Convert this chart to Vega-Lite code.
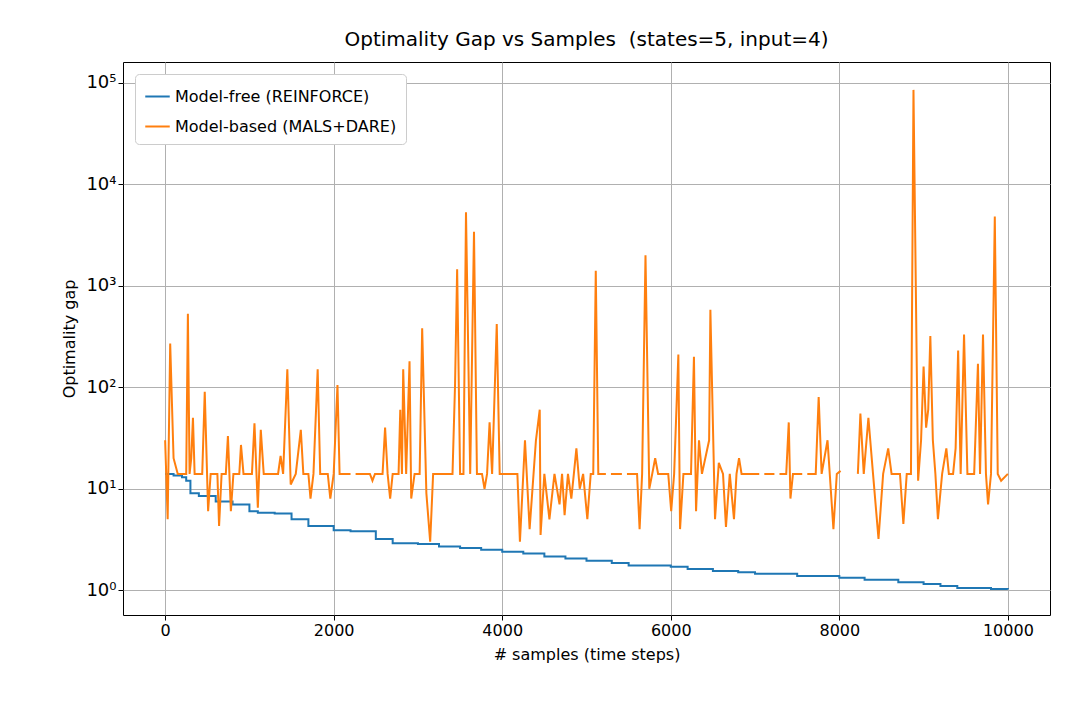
{
  "$schema": "https://vega.github.io/schema/vega-lite/v6.json",
  "width": 927,
  "height": 553,
  "autosize": {"type": "none"},
  "padding": {"left": 123, "top": 62, "right": 30, "bottom": 105},
  "title": {"text": "Optimality Gap vs Samples \u00a0(states=5, input=4)", "font": "DejaVu Sans", "fontSize": 20, "fontWeight": "normal", "offset": 12},
  "config": {
    "font": "DejaVu Sans",
    "view": {"stroke": "black", "strokeWidth": 1},
    "axis": {"grid": true, "gridColor": "#b0b0b0", "gridWidth": 1, "domain": false, "tickColor": "black", "labelFontSize": 16, "titleFontSize": 16, "titleFontWeight": "normal", "labelColor": "black", "titleColor": "black", "tickSize": 5}
  },
  "data": {"values": [
    {"x":0,"y":14,"s":"Model-free (REINFORCE)"},{"x":100,"y":13.5,"s":"Model-free (REINFORCE)"},{"x":200,"y":13,"s":"Model-free (REINFORCE)"},{"x":250,"y":12,"s":"Model-free (REINFORCE)"},{"x":300,"y":9,"s":"Model-free (REINFORCE)"},{"x":400,"y":8.5,"s":"Model-free (REINFORCE)"},{"x":600,"y":7.5,"s":"Model-free (REINFORCE)"},{"x":800,"y":7,"s":"Model-free (REINFORCE)"},{"x":1000,"y":6,"s":"Model-free (REINFORCE)"},{"x":1100,"y":5.8,"s":"Model-free (REINFORCE)"},{"x":1300,"y":5.7,"s":"Model-free (REINFORCE)"},{"x":1500,"y":5,"s":"Model-free (REINFORCE)"},{"x":1700,"y":4.3,"s":"Model-free (REINFORCE)"},{"x":2000,"y":3.9,"s":"Model-free (REINFORCE)"},{"x":2200,"y":3.8,"s":"Model-free (REINFORCE)"},{"x":2500,"y":3.2,"s":"Model-free (REINFORCE)"},{"x":2700,"y":2.9,"s":"Model-free (REINFORCE)"},{"x":3000,"y":2.85,"s":"Model-free (REINFORCE)"},{"x":3250,"y":2.7,"s":"Model-free (REINFORCE)"},{"x":3500,"y":2.6,"s":"Model-free (REINFORCE)"},{"x":3750,"y":2.5,"s":"Model-free (REINFORCE)"},{"x":4000,"y":2.4,"s":"Model-free (REINFORCE)"},{"x":4250,"y":2.3,"s":"Model-free (REINFORCE)"},{"x":4500,"y":2.15,"s":"Model-free (REINFORCE)"},{"x":4750,"y":2.05,"s":"Model-free (REINFORCE)"},{"x":5000,"y":1.95,"s":"Model-free (REINFORCE)"},{"x":5300,"y":1.85,"s":"Model-free (REINFORCE)"},{"x":5500,"y":1.75,"s":"Model-free (REINFORCE)"},{"x":6000,"y":1.7,"s":"Model-free (REINFORCE)"},{"x":6200,"y":1.62,"s":"Model-free (REINFORCE)"},{"x":6500,"y":1.55,"s":"Model-free (REINFORCE)"},{"x":6800,"y":1.5,"s":"Model-free (REINFORCE)"},{"x":7000,"y":1.45,"s":"Model-free (REINFORCE)"},{"x":7500,"y":1.38,"s":"Model-free (REINFORCE)"},{"x":8000,"y":1.33,"s":"Model-free (REINFORCE)"},{"x":8300,"y":1.27,"s":"Model-free (REINFORCE)"},{"x":8700,"y":1.2,"s":"Model-free (REINFORCE)"},{"x":9000,"y":1.15,"s":"Model-free (REINFORCE)"},{"x":9200,"y":1.1,"s":"Model-free (REINFORCE)"},{"x":9400,"y":1.05,"s":"Model-free (REINFORCE)"},{"x":9800,"y":1.03,"s":"Model-free (REINFORCE)"},{"x":10000,"y":1.02,"s":"Model-free (REINFORCE)"},

    {"x":0,"y":30,"s":"Model-based (MALS+DARE)"},{"x":30,"y":5,"s":"Model-based (MALS+DARE)"},{"x":60,"y":270,"s":"Model-based (MALS+DARE)"},{"x":100,"y":20,"s":"Model-based (MALS+DARE)"},{"x":150,"y":14,"s":"Model-based (MALS+DARE)"},{"x":250,"y":14,"s":"Model-based (MALS+DARE)"},{"x":270,"y":530,"s":"Model-based (MALS+DARE)"},{"x":290,"y":14,"s":"Model-based (MALS+DARE)"},{"x":310,"y":20,"s":"Model-based (MALS+DARE)"},{"x":330,"y":50,"s":"Model-based (MALS+DARE)"},{"x":350,"y":14,"s":"Model-based (MALS+DARE)"},
    {"x":440,"y":14,"s":"Model-based (MALS+DARE)"},{"x":470,"y":90,"s":"Model-based (MALS+DARE)"},{"x":510,"y":6,"s":"Model-based (MALS+DARE)"},{"x":540,"y":14,"s":"Model-based (MALS+DARE)"},{"x":620,"y":14,"s":"Model-based (MALS+DARE)"},{"x":640,"y":4.3,"s":"Model-based (MALS+DARE)"},{"x":670,"y":14,"s":"Model-based (MALS+DARE)"},{"x":720,"y":14,"s":"Model-based (MALS+DARE)"},{"x":745,"y":33,"s":"Model-based (MALS+DARE)"},{"x":780,"y":6,"s":"Model-based (MALS+DARE)"},{"x":810,"y":14,"s":"Model-based (MALS+DARE)"},{"x":880,"y":14,"s":"Model-based (MALS+DARE)"},{"x":900,"y":27,"s":"Model-based (MALS+DARE)"},{"x":930,"y":14,"s":"Model-based (MALS+DARE)"},
    {"x":1030,"y":14,"s":"Model-based (MALS+DARE)"},{"x":1060,"y":44,"s":"Model-based (MALS+DARE)"},{"x":1100,"y":6.5,"s":"Model-based (MALS+DARE)"},{"x":1135,"y":38,"s":"Model-based (MALS+DARE)"},{"x":1170,"y":14,"s":"Model-based (MALS+DARE)"},{"x":1340,"y":14,"s":"Model-based (MALS+DARE)"},{"x":1370,"y":21,"s":"Model-based (MALS+DARE)"},{"x":1400,"y":14,"s":"Model-based (MALS+DARE)"},{"x":1450,"y":150,"s":"Model-based (MALS+DARE)"},{"x":1490,"y":11,"s":"Model-based (MALS+DARE)"},{"x":1550,"y":14,"s":"Model-based (MALS+DARE)"},{"x":1610,"y":38,"s":"Model-based (MALS+DARE)"},{"x":1640,"y":14,"s":"Model-based (MALS+DARE)"},{"x":1700,"y":14,"s":"Model-based (MALS+DARE)"},{"x":1725,"y":8,"s":"Model-based (MALS+DARE)"},{"x":1760,"y":14,"s":"Model-based (MALS+DARE)"},{"x":1810,"y":150,"s":"Model-based (MALS+DARE)"},{"x":1840,"y":14,"s":"Model-based (MALS+DARE)"},{"x":1930,"y":14,"s":"Model-based (MALS+DARE)"},{"x":1960,"y":8,"s":"Model-based (MALS+DARE)"},{"x":2000,"y":14,"s":"Model-based (MALS+DARE)"},{"x":2045,"y":105,"s":"Model-based (MALS+DARE)"},{"x":2070,"y":14,"s":"Model-based (MALS+DARE)"},{"x":2200,"y":14,"s":"Model-based (MALS+DARE)"},{"x":2230,"y":null,"s":"Model-based (MALS+DARE)"},{"x":2260,"y":14,"s":"Model-based (MALS+DARE)"},
    {"x":2430,"y":14,"s":"Model-based (MALS+DARE)"},{"x":2460,"y":12,"s":"Model-based (MALS+DARE)"},{"x":2490,"y":14,"s":"Model-based (MALS+DARE)"},{"x":2580,"y":14,"s":"Model-based (MALS+DARE)"},{"x":2610,"y":40,"s":"Model-based (MALS+DARE)"},{"x":2640,"y":14,"s":"Model-based (MALS+DARE)"},{"x":2670,"y":8,"s":"Model-based (MALS+DARE)"},{"x":2700,"y":14,"s":"Model-based (MALS+DARE)"},{"x":2770,"y":14,"s":"Model-based (MALS+DARE)"},{"x":2790,"y":60,"s":"Model-based (MALS+DARE)"},{"x":2810,"y":14,"s":"Model-based (MALS+DARE)"},{"x":2825,"y":150,"s":"Model-based (MALS+DARE)"},{"x":2860,"y":14,"s":"Model-based (MALS+DARE)"},{"x":2900,"y":180,"s":"Model-based (MALS+DARE)"},{"x":2920,"y":8,"s":"Model-based (MALS+DARE)"},{"x":2960,"y":14,"s":"Model-based (MALS+DARE)"},{"x":3020,"y":14,"s":"Model-based (MALS+DARE)"},{"x":3050,"y":380,"s":"Model-based (MALS+DARE)"},{"x":3100,"y":9,"s":"Model-based (MALS+DARE)"},{"x":3145,"y":3,"s":"Model-based (MALS+DARE)"},{"x":3180,"y":14,"s":"Model-based (MALS+DARE)"},
    {"x":3410,"y":14,"s":"Model-based (MALS+DARE)"},{"x":3440,"y":105,"s":"Model-based (MALS+DARE)"},{"x":3465,"y":1450,"s":"Model-based (MALS+DARE)"},{"x":3500,"y":14,"s":"Model-based (MALS+DARE)"},{"x":3540,"y":14,"s":"Model-based (MALS+DARE)"},{"x":3570,"y":5300,"s":"Model-based (MALS+DARE)"},{"x":3620,"y":14,"s":"Model-based (MALS+DARE)"},{"x":3665,"y":3400,"s":"Model-based (MALS+DARE)"},{"x":3700,"y":14,"s":"Model-based (MALS+DARE)"},{"x":3760,"y":14,"s":"Model-based (MALS+DARE)"},{"x":3790,"y":10,"s":"Model-based (MALS+DARE)"},{"x":3820,"y":14,"s":"Model-based (MALS+DARE)"},{"x":3850,"y":45,"s":"Model-based (MALS+DARE)"},{"x":3880,"y":14,"s":"Model-based (MALS+DARE)"},{"x":3935,"y":420,"s":"Model-based (MALS+DARE)"},{"x":3970,"y":14,"s":"Model-based (MALS+DARE)"},
    {"x":4180,"y":14,"s":"Model-based (MALS+DARE)"},{"x":4210,"y":3,"s":"Model-based (MALS+DARE)"},{"x":4270,"y":30,"s":"Model-based (MALS+DARE)"},{"x":4325,"y":4,"s":"Model-based (MALS+DARE)"},{"x":4400,"y":30,"s":"Model-based (MALS+DARE)"},{"x":4445,"y":60,"s":"Model-based (MALS+DARE)"},{"x":4455,"y":3.5,"s":"Model-based (MALS+DARE)"},{"x":4500,"y":14,"s":"Model-based (MALS+DARE)"},{"x":4560,"y":5,"s":"Model-based (MALS+DARE)"},{"x":4620,"y":14,"s":"Model-based (MALS+DARE)"},{"x":4680,"y":7,"s":"Model-based (MALS+DARE)"},{"x":4710,"y":14,"s":"Model-based (MALS+DARE)"},{"x":4740,"y":5.5,"s":"Model-based (MALS+DARE)"},{"x":4780,"y":14,"s":"Model-based (MALS+DARE)"},{"x":4820,"y":8,"s":"Model-based (MALS+DARE)"},{"x":4850,"y":14,"s":"Model-based (MALS+DARE)"},{"x":4880,"y":25,"s":"Model-based (MALS+DARE)"},{"x":4920,"y":10,"s":"Model-based (MALS+DARE)"},{"x":4960,"y":14,"s":"Model-based (MALS+DARE)"},{"x":5010,"y":5,"s":"Model-based (MALS+DARE)"},{"x":5050,"y":14,"s":"Model-based (MALS+DARE)"},{"x":5080,"y":14,"s":"Model-based (MALS+DARE)"},{"x":5110,"y":1400,"s":"Model-based (MALS+DARE)"},{"x":5140,"y":14,"s":"Model-based (MALS+DARE)"},{"x":5230,"y":14,"s":"Model-based (MALS+DARE)"},{"x":5260,"y":null,"s":"Model-based (MALS+DARE)"},{"x":5290,"y":14,"s":"Model-based (MALS+DARE)"},{"x":5420,"y":14,"s":"Model-based (MALS+DARE)"},{"x":5450,"y":null,"s":"Model-based (MALS+DARE)"},{"x":5480,"y":14,"s":"Model-based (MALS+DARE)"},
    {"x":5600,"y":14,"s":"Model-based (MALS+DARE)"},{"x":5630,"y":4,"s":"Model-based (MALS+DARE)"},{"x":5660,"y":14,"s":"Model-based (MALS+DARE)"},{"x":5700,"y":2000,"s":"Model-based (MALS+DARE)"},{"x":5745,"y":10,"s":"Model-based (MALS+DARE)"},{"x":5780,"y":14,"s":"Model-based (MALS+DARE)"},{"x":5815,"y":20,"s":"Model-based (MALS+DARE)"},{"x":5850,"y":14,"s":"Model-based (MALS+DARE)"},{"x":5970,"y":14,"s":"Model-based (MALS+DARE)"},{"x":6005,"y":6,"s":"Model-based (MALS+DARE)"},{"x":6040,"y":14,"s":"Model-based (MALS+DARE)"},{"x":6090,"y":210,"s":"Model-based (MALS+DARE)"},{"x":6110,"y":4,"s":"Model-based (MALS+DARE)"},{"x":6150,"y":14,"s":"Model-based (MALS+DARE)"},{"x":6240,"y":14,"s":"Model-based (MALS+DARE)"},{"x":6275,"y":200,"s":"Model-based (MALS+DARE)"},{"x":6300,"y":6,"s":"Model-based (MALS+DARE)"},{"x":6335,"y":30,"s":"Model-based (MALS+DARE)"},{"x":6370,"y":14,"s":"Model-based (MALS+DARE)"},{"x":6455,"y":30,"s":"Model-based (MALS+DARE)"},{"x":6470,"y":580,"s":"Model-based (MALS+DARE)"},{"x":6525,"y":5,"s":"Model-based (MALS+DARE)"},{"x":6570,"y":18,"s":"Model-based (MALS+DARE)"},{"x":6620,"y":14,"s":"Model-based (MALS+DARE)"},{"x":6655,"y":4.2,"s":"Model-based (MALS+DARE)"},{"x":6700,"y":14,"s":"Model-based (MALS+DARE)"},{"x":6750,"y":5,"s":"Model-based (MALS+DARE)"},{"x":6780,"y":14,"s":"Model-based (MALS+DARE)"},{"x":6810,"y":20,"s":"Model-based (MALS+DARE)"},{"x":6840,"y":14,"s":"Model-based (MALS+DARE)"},{"x":7050,"y":14,"s":"Model-based (MALS+DARE)"},{"x":7080,"y":null,"s":"Model-based (MALS+DARE)"},{"x":7110,"y":14,"s":"Model-based (MALS+DARE)"},{"x":7230,"y":14,"s":"Model-based (MALS+DARE)"},{"x":7260,"y":null,"s":"Model-based (MALS+DARE)"},{"x":7290,"y":14,"s":"Model-based (MALS+DARE)"},
    {"x":7370,"y":14,"s":"Model-based (MALS+DARE)"},{"x":7400,"y":45,"s":"Model-based (MALS+DARE)"},{"x":7420,"y":8,"s":"Model-based (MALS+DARE)"},{"x":7450,"y":14,"s":"Model-based (MALS+DARE)"},{"x":7560,"y":14,"s":"Model-based (MALS+DARE)"},{"x":7590,"y":null,"s":"Model-based (MALS+DARE)"},{"x":7620,"y":14,"s":"Model-based (MALS+DARE)"},{"x":7720,"y":14,"s":"Model-based (MALS+DARE)"},{"x":7755,"y":80,"s":"Model-based (MALS+DARE)"},{"x":7790,"y":14,"s":"Model-based (MALS+DARE)"},{"x":7860,"y":30,"s":"Model-based (MALS+DARE)"},{"x":7930,"y":4,"s":"Model-based (MALS+DARE)"},{"x":7970,"y":14,"s":"Model-based (MALS+DARE)"},{"x":8015,"y":15,"s":"Model-based (MALS+DARE)"},{"x":8050,"y":null,"s":"Model-based (MALS+DARE)"},
    {"x":8220,"y":14,"s":"Model-based (MALS+DARE)"},{"x":8250,"y":55,"s":"Model-based (MALS+DARE)"},{"x":8290,"y":14,"s":"Model-based (MALS+DARE)"},{"x":8345,"y":50,"s":"Model-based (MALS+DARE)"},{"x":8400,"y":14,"s":"Model-based (MALS+DARE)"},{"x":8465,"y":3.2,"s":"Model-based (MALS+DARE)"},{"x":8520,"y":14,"s":"Model-based (MALS+DARE)"},{"x":8580,"y":25,"s":"Model-based (MALS+DARE)"},{"x":8620,"y":14,"s":"Model-based (MALS+DARE)"},{"x":8720,"y":14,"s":"Model-based (MALS+DARE)"},{"x":8760,"y":4.5,"s":"Model-based (MALS+DARE)"},{"x":8800,"y":14,"s":"Model-based (MALS+DARE)"},{"x":8850,"y":14,"s":"Model-based (MALS+DARE)"},{"x":8880,"y":85000,"s":"Model-based (MALS+DARE)"},{"x":8935,"y":12,"s":"Model-based (MALS+DARE)"},{"x":8970,"y":30,"s":"Model-based (MALS+DARE)"},{"x":9000,"y":160,"s":"Model-based (MALS+DARE)"},{"x":9030,"y":40,"s":"Model-based (MALS+DARE)"},{"x":9055,"y":60,"s":"Model-based (MALS+DARE)"},{"x":9080,"y":320,"s":"Model-based (MALS+DARE)"},{"x":9110,"y":30,"s":"Model-based (MALS+DARE)"},{"x":9140,"y":14,"s":"Model-based (MALS+DARE)"},{"x":9170,"y":5,"s":"Model-based (MALS+DARE)"},{"x":9220,"y":14,"s":"Model-based (MALS+DARE)"},{"x":9270,"y":25,"s":"Model-based (MALS+DARE)"},{"x":9300,"y":14,"s":"Model-based (MALS+DARE)"},{"x":9350,"y":14,"s":"Model-based (MALS+DARE)"},{"x":9380,"y":25,"s":"Model-based (MALS+DARE)"},{"x":9410,"y":230,"s":"Model-based (MALS+DARE)"},{"x":9440,"y":14,"s":"Model-based (MALS+DARE)"},{"x":9480,"y":330,"s":"Model-based (MALS+DARE)"},{"x":9520,"y":14,"s":"Model-based (MALS+DARE)"},{"x":9600,"y":14,"s":"Model-based (MALS+DARE)"},{"x":9645,"y":170,"s":"Model-based (MALS+DARE)"},{"x":9670,"y":14,"s":"Model-based (MALS+DARE)"},{"x":9705,"y":330,"s":"Model-based (MALS+DARE)"},{"x":9740,"y":14,"s":"Model-based (MALS+DARE)"},{"x":9765,"y":7,"s":"Model-based (MALS+DARE)"},{"x":9800,"y":14,"s":"Model-based (MALS+DARE)"},{"x":9845,"y":4800,"s":"Model-based (MALS+DARE)"},{"x":9880,"y":14,"s":"Model-based (MALS+DARE)"},{"x":9920,"y":12,"s":"Model-based (MALS+DARE)"},{"x":10000,"y":14,"s":"Model-based (MALS+DARE)"}
  ]},
  "encoding": {
    "x": {"field": "x", "type": "quantitative", "title": "# samples (time steps)", "scale": {"domain": [-500, 10500], "nice": false, "zero": false}, "axis": {"values": [0, 2000, 4000, 6000, 8000, 10000], "format": "d", "titlePadding": 8}},
    "y": {"field": "y", "type": "quantitative", "title": "Optimality gap", "scale": {"type": "log", "domain": [0.57, 160000], "nice": false}, "axis": {"values": [1, 10, 100, 1000, 10000, 100000], "labelExpr": "datum.value == 1 ? '10⁰' : datum.value == 10 ? '10¹' : datum.value == 100 ? '10²' : datum.value == 1000 ? '10³' : datum.value == 10000 ? '10⁴' : '10⁵'", "labelFontSize": 18, "titlePadding": 8}},
    "color": {"field": "s", "type": "nominal", "sort": ["Model-free (REINFORCE)", "Model-based (MALS+DARE)"], "scale": {"domain": ["Model-free (REINFORCE)", "Model-based (MALS+DARE)"], "range": ["#1f77b4", "#ff7f0e"]}, "legend": {"title": null, "orient": "top-left", "offset": 12, "symbolType": "stroke", "symbolSize": 600, "symbolStrokeWidth": 2, "labelFontSize": 16, "labelLimit": 500, "rowPadding": 8, "padding": 9, "strokeColor": "#cccccc", "fillColor": "white", "cornerRadius": 4}}
  },
  "layer": [
    {"transform": [{"filter": "datum.s == 'Model-free (REINFORCE)'"}], "mark": {"type": "line", "strokeWidth": 2, "interpolate": "step-after"}},
    {"transform": [{"filter": "datum.s == 'Model-based (MALS+DARE)'"}], "mark": {"type": "line", "strokeWidth": 2, "invalid": "break-paths-show-domains"}}
  ]
}
